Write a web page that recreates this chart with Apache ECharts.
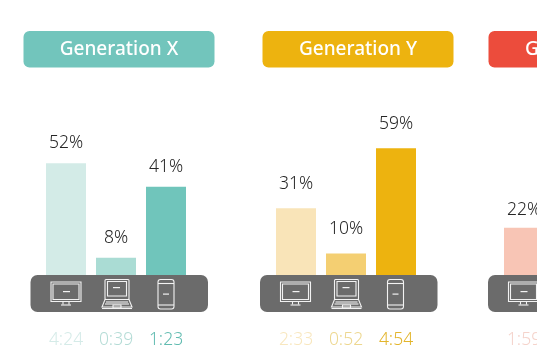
<!DOCTYPE html>
<html><head><meta charset="utf-8">
<style>html,body{margin:0;padding:0;background:#fff;overflow:hidden}#c{width:537px;height:360px}</style>
<script src="https://cdn.jsdelivr.net/npm/echarts@6/dist/echarts.min.js"></script>
</head><body><div id="c"></div>
<script>
const devices = ['Desktop', 'Laptop', 'Mobile'];
const genXShare = [52, 8, 41];
const genYShare = [31, 10, 59];
const genZShare = [22, null, null];
const genXTime = ['4:24', '0:39', '1:23'];
const genYTime = ['2:33', '0:52', '4:54'];
const genZTime = ['1:59', '', ''];

const FONT = '"Noto Sans",sans-serif';
const panels = [
  {name:'Generation X', share:genXShare, time:genXTime, left:41, hx:23.5, px:30.5, gap:11,
   head:'#72c5bc', bars:['#d3ebe7','#aadcd4','#70c5bb'], times:['#d5ebe8','#b5dcd6','#62bcb1']},
  {name:'Generation Y', share:genYShare, time:genYTime, left:271, hx:262.5, px:260, gap:15,
   head:'#edb30f', bars:['#f9e4b8','#f4cf72','#edb30f'], times:['#f8e7bf','#edd78f','#e3b52c']},
  {name:'Generation Z', share:genZShare, time:genZTime, left:499, hx:488.5, px:488, gap:9,
   head:'#ec4c3c', bars:['#f8c5b5','#f8c5b5','#f8c5b5'], times:['#f5d3cb','#f5d3cb','#f5d3cb']}
];

const line = {stroke:'#f2f2f2', lineWidth:1.1, fill:'none'};
const fillW = {fill:'#f2f2f2'};
function rect(x,y,w,h,r){return {type:'rect',shape:{x,y,width:w,height:h,r:r||0},style:line};}
function seg(x1,y1,x2,y2){return {type:'line',shape:{x1,y1,x2,y2},style:line};}
function dash(x,y,w){return {type:'rect',shape:{x,y,width:w,height:1.2},style:fillW};}
function icons(px){
  const m = 20.5, l = 71.5, p = 127.5;
  return [
    // monitor
    rect(m,282,30,19.5), rect(m+2,284,26,15.5),
    seg(m+12,301.5,m+12,304.5), seg(m+18,301.5,m+18,304.5), seg(m+10,305,m+20,305), dash(m+12,291,7),
    // laptop
    rect(l+3,279.5,24,20,1), rect(l+5.5,281.5,19,14.5), dash(l+11,287,7),
    {type:'polygon',shape:{points:[[l+3,299.5],[l+27,299.5],[l+30,307],[l,307]]},style:line},
    seg(l,308.5,l+30,308.5), seg(l+4,302,l+26,302), seg(l+3,304,l+27,304), rect(l+11,305,8,3),
    // phone
    rect(p,279.5,16,29.5,2.5), seg(p,283.5,p+16,283.5), seg(p,305,p+16,305), dash(p+5,293.5,6)
  ].map(e => { e.x = px; e.silent = true; return e; });
}

const graphic = [];
const grid = [], xAxis = [], yAxis = [], series = [];
panels.forEach((p,i) => {
  graphic.push({type:'rect',z:10,silent:true,shape:{x:p.hx,y:31,width:191,height:36.5,r:6},style:{fill:p.head}});
  graphic.push({type:'text',z:11,silent:true,x:p.hx+95.5,y:50,style:{text:p.name,fill:'#fff',font:'500 19px '+FONT,textAlign:'center',textVerticalAlign:'middle'}});
  graphic.push({type:'rect',z:10,silent:true,shape:{x:p.px,y:275,width:177.5,height:37,r:7},style:{fill:'#6b6b6b'}});
  icons(p.px).forEach(e => { e.z = 11; graphic.push(e); });
  grid.push({left:p.left,width:150,top:60,height:215,outerBoundsMode:'none'});
  xAxis.push({type:'category',gridIndex:i,data:devices,axisLine:{show:false},axisTick:{show:false},
    axisLabel:{interval:0,margin:56,hideOverlap:false,fontFamily:FONT,fontSize:17.5,fontWeight:300,
      formatter:(v,k)=>p.time[k],color:(v,k)=>p.times[k]}});
  yAxis.push({type:'value',gridIndex:i,min:0,max:100,show:false,splitLine:{show:false}});
  series.push({type:'bar',xAxisIndex:i,yAxisIndex:i,barWidth:40,silent:true,
    data:p.share.map((v,k)=>({value:v,itemStyle:{color:p.bars[k]}})),
    label:{show:true,position:'top',distance:p.gap,formatter:'{c}%',color:'#262626',fontFamily:FONT,fontSize:17.5,fontWeight:300}});
});

const chart = echarts.init(document.getElementById('c'),null,{renderer:'canvas'});
chart.setOption({animation:false,backgroundColor:'#fff',grid,xAxis,yAxis,series,graphic});
</script></body></html>
